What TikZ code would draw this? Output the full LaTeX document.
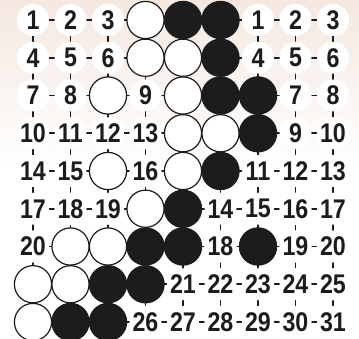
\documentclass[tikz,border=0pt]{standalone}
\usepackage{fontspec}
\setmainfont{Liberation Sans}
\definecolor{peach}{RGB}{244,232,224}
\definecolor{ink}{RGB}{28,28,28}
\newcommand{\narrow}[1]{\scalebox{0.86}[1]{#1}}
\tikzset{
  num/.style={circle, fill=white, inner sep=0pt, minimum size=32pt, text=ink,
    font=\fontsize{27}{27}\selectfont\bfseries},
  grid line/.style={draw=ink, line width=1.8pt},
  wstone/.style={draw=ink, line width=1.2pt, fill=white},
  bstone/.style={draw=ink, line width=1.2pt, fill=ink},
}

\begin{document}
\begin{tikzpicture}[x=37.5pt, y=-37.75pt]
  \useasboundingbox (-33pt,20pt) rectangle (326pt,-319pt);
  % background
  \fill[white] (-33pt,20pt) rectangle (326pt,-319pt);
  \fill[top color=peach, bottom color=white] (-33pt,20pt) rectangle (326pt,-150pt);
  % board lines
  \foreach \i in {0,...,8} {
    \draw[grid line] (0,\i) -- (8,\i);
    \draw[grid line] (\i,0) -- (\i,8);
  }
  % numbered points
  \foreach \c/\r/\lab in {0/0/1, 1/0/2, 2/0/3, 6/0/1, 7/0/2, 8/0/3,
      0/1/4, 1/1/5, 2/1/6, 6/1/4, 7/1/5, 8/1/6,
      0/2/7, 1/2/8, 3/2/9, 7/2/7, 8/2/8,
      0/3/10, 1/3/11, 2/3/12, 3/3/13, 7/3/9, 8/3/10,
      0/4/14, 1/4/15, 3/4/16, 6/4/11, 7/4/12, 8/4/13,
      0/5/17, 1/5/18, 2/5/19, 5/5/14, 6/5/15, 7/5/16, 8/5/17,
      0/6/20, 5/6/18, 7/6/19, 8/6/20,
      4/7/21, 5/7/22, 6/7/23, 7/7/24, 8/7/25,
      3/8/26, 4/8/27, 5/8/28, 6/8/29, 7/8/30, 8/8/31}
    \node[num] (n\r-\c) at (\c,\r) {\narrow{\lab}};
  % white stones
  \foreach \c/\r in {3/0, 3/1, 4/1, 2/2, 4/2, 4/3, 5/3, 2/4, 4/4,
      3/5, 1/6, 2/6, 0/7, 1/7, 0/8}
    \draw[wstone] (\c,\r) circle (18.6pt);
  % black stones
  \foreach \c/\r in {4/0, 5/0, 5/1, 5/2, 6/2, 6/3, 5/4, 4/5,
      3/6, 4/6, 6/6, 2/7, 3/7, 1/8, 2/8}
    \draw[bstone] (\c,\r) circle (18.6pt);
\end{tikzpicture}
\end{document}
